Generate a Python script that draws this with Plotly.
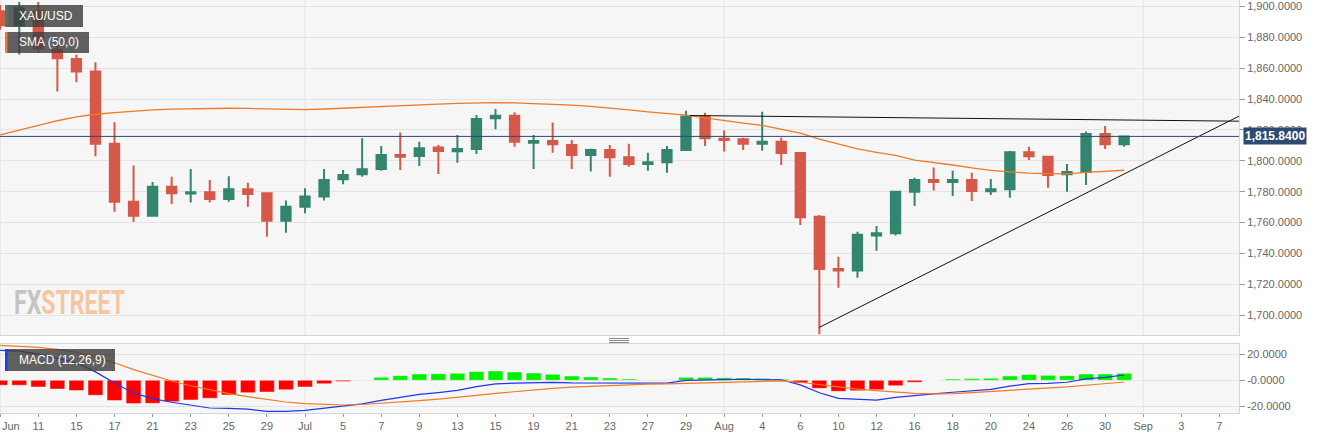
import plotly.graph_objects as go

# ---------------- data ----------------
DATES = [
    "2021-06-09", "2021-06-10", "2021-06-11", "2021-06-14", "2021-06-15", "2021-06-16", "2021-06-17", "2021-06-18",
    "2021-06-21", "2021-06-22", "2021-06-23", "2021-06-24", "2021-06-25", "2021-06-28", "2021-06-29", "2021-06-30",
    "2021-07-01", "2021-07-02", "2021-07-05", "2021-07-06", "2021-07-07", "2021-07-08", "2021-07-09", "2021-07-12",
    "2021-07-13", "2021-07-14", "2021-07-15", "2021-07-16", "2021-07-19", "2021-07-20", "2021-07-21", "2021-07-22",
    "2021-07-23", "2021-07-26", "2021-07-27", "2021-07-28", "2021-07-29", "2021-07-30", "2021-08-02", "2021-08-03",
    "2021-08-04", "2021-08-05", "2021-08-06", "2021-08-09", "2021-08-10", "2021-08-11", "2021-08-12", "2021-08-13",
    "2021-08-16", "2021-08-17", "2021-08-18", "2021-08-19", "2021-08-20", "2021-08-23", "2021-08-24", "2021-08-25",
    "2021-08-26", "2021-08-27", "2021-08-30", "2021-08-31",
]
OPEN = [1897, 1888, 1897, 1872, 1866, 1858, 1811, 1773.5, 1764.4, 1783.2, 1778.8, 1779.6, 1775.3, 1781.5, 1779,
        1761.2, 1770.3, 1776.8, 1788, 1791.3, 1794.7, 1803.8, 1803.2, 1808.6, 1806.2, 1807.7, 1827.6, 1829.3,
        1811.8, 1812.9, 1810.3, 1803.8, 1807, 1802.3, 1798, 1799, 1807, 1828.7, 1814.4, 1814, 1811, 1812.4, 1805,
        1763.8, 1729.9, 1728.8, 1751.5, 1753, 1780, 1787.6, 1786.3, 1787.6, 1780.3, 1781.5, 1805.5, 1802.7,
        1791.3, 1792.8, 1817.4, 1810.7]
HIGH = [1901, 1903, 1903, 1877, 1869, 1864, 1825, 1797, 1786.3, 1789.7, 1794.7, 1787.6, 1790, 1785.8, 1779.3,
        1774.2, 1782.2, 1794.7, 1794, 1814.6, 1809.6, 1818.3, 1812.4, 1810.3, 1816.8, 1829.8, 1833.6, 1831.5,
        1816.8, 1824.8, 1813.5, 1807.9, 1810.3, 1811, 1805.3, 1809.6, 1832.5, 1831.2, 1819.6, 1815, 1831.9, 1815,
        1805.5, 1764.9, 1737.8, 1754, 1757.8, 1780.2, 1789.1, 1795.6, 1793.6, 1792.3, 1788.2, 1806.4, 1809.2,
        1803, 1798, 1819, 1822.6, 1816]
LOW = [1885, 1869, 1870, 1845, 1851, 1803, 1767, 1760.5, 1764, 1772, 1773, 1773, 1773.5, 1770.3, 1750.8,
       1753.4, 1766, 1774.2, 1784.8, 1789.7, 1793.6, 1794, 1796.7, 1791.5, 1798.8, 1804.5, 1820.5, 1809.2,
       1794.7, 1805.3, 1794.7, 1793, 1789.7, 1796.2, 1793.6, 1792.3, 1806.5, 1809.6, 1806, 1807, 1806.6, 1797.3,
       1758.4, 1687.5, 1717.7, 1724.2, 1741.7, 1751.5, 1770.7, 1780.7, 1777.2, 1774, 1777.9, 1776.1, 1800.6,
       1782.6, 1780, 1784.3, 1807.7, 1809.2]
CLOSE = [1888, 1899, 1873, 1866.5, 1858, 1811, 1773.5, 1764.4, 1783.2, 1779, 1779.6, 1775.3, 1781.5, 1778.5,
         1761.2, 1770.3, 1776.8, 1787.6, 1790.8, 1794.5, 1803.8, 1802.7, 1808.2, 1806.4, 1807.7, 1827.2, 1829.3,
         1812.4, 1812.9, 1810.7, 1803.8, 1807, 1802.3, 1798, 1799, 1807, 1828.7, 1814.6, 1813.5, 1811, 1812.4,
         1805, 1763.4, 1729.9, 1728.8, 1752, 1753, 1780, 1787.6, 1786.3, 1787.6, 1780.4, 1781.5, 1805.5, 1803,
         1790.8, 1792.8, 1817.4, 1810.7, 1815.84]
SMA50 = [1816.8, 1820, 1823, 1826, 1828.5, 1830.2, 1831.3, 1832.2, 1833, 1833.5, 1833.8, 1834, 1834.1, 1834,
         1833.6, 1833.2, 1833.2, 1833.6, 1834.2, 1834.8, 1835.4, 1835.9, 1836.3, 1836.8, 1837.3, 1837.7, 1837.8,
         1837.6, 1837.2, 1836.7, 1836.1, 1835.3, 1834.3, 1833.0, 1831.8, 1830.6, 1829.6, 1827.8, 1826, 1824.5,
         1823, 1820.5, 1817.9, 1814, 1811, 1807.8, 1805.5, 1803.5, 1800.5, 1799, 1797.3, 1795.4, 1793.8, 1792.8,
         1792, 1791.7, 1791.5, 1792.5, 1793.2, 1793.9]
MACD_LINE = [23.1, 22.4, 20.2, 17.1, 13.6, 6.5, -2.1, -9.7, -14.1, -16.9, -19.3, -21.3, -21.6, -22.1, -23.9,
             -23.9, -23.1, -21.3, -20.0, -18.1, -15.5, -13.3, -10.8, -9.4, -7.8, -4.9, -2.8, -2.2, -1.7, -1.6,
             -2.0, -2.0, -2.1, -2.4, -2.5, -2.1, 0.0, 0.5, 0.6, 0.8, 0.8, 0.4, -3.5, -9.6, -13.9, -14.8, -15.2,
             -13.1, -11.5, -10.4, -9.2, -8.1, -7.0, -4.5, -2.6, -2.4, -1.5, 1.1, 2.3, 4.1]
MACD_SIGNAL = [26.9, 26.2, 25.3, 23.8, 21.5, 18.0, 13.5, 8.2, 3.6, -0.5, -4.2, -7.5, -10.3, -12.6, -14.9, -16.7,
               -18.0, -18.7, -19.0, -18.6, -17.8, -16.9, -15.7, -14.5, -13.2, -11.6, -10.0, -8.6, -7.3, -6.2,
               -5.3, -4.6, -3.9, -3.4, -3.0, -2.7, -2.3, -1.8, -1.4, -1.0, -0.7, -0.5, -1.5, -3.4, -5.4, -6.8,
               -8.0, -9.0, -10.0, -10.4, -10.2, -9.4, -8.6, -7.8, -7.0, -6.2, -5.1, -3.8, -2.6, -1.3]
MACD_HIST = [-3.8, -3.8, -5.1, -6.7, -7.9, -11.5, -15.6, -17.9, -17.7, -16.4, -15.1, -13.8, -11.3, -9.5, -9.0,
             -7.2, -5.1, -2.6, -1.0, 0.5, 2.3, 3.6, 4.9, 5.1, 5.4, 6.7, 7.2, 6.4, 5.6, 4.6, 3.3, 2.6, 1.8, 1.0,
             0.5, 0.6, 2.3, 2.3, 2.0, 1.8, 1.5, 0.9, -2.0, -6.2, -8.5, -8.0, -7.2, -4.1, -1.5, 0.0, 1.0, 1.3, 1.6,
             3.3, 4.4, 3.8, 3.6, 4.9, 4.9, 5.4]
TICK_LABELS = ["Jun", "11", "15", "17", "21", "23", "25", "29", "Jul", "5", "7", "9", "13", "15", "19", "21",
               "23", "27", "29", "Aug", "4", "6", "10", "12", "16", "18", "20", "24", "26", "30", "Sep", "3", "7"]
LAST_PRICE = 1815.84
RESIST_X = [36.2, 65.05]
RESIST_Y = [1829.4, 1825.7]
SUPPORT_X = [43, 65.05]
SUPPORT_Y = [1692.0, 1829.1]
SYMBOL = "XAU/USD"
SMA_NAME = "SMA (50,0)"
MACD_NAME = "MACD (12,26,9)"
WATERMARK = ("FX", "STREET")

# ---------------- geometry / style ----------------
W, H = 1323, 439
ML, MR, MT, MB = 0, 84, 0, 26
PW, PH = W - ML - MR, H - MT - MB
MAIN_BOTTOM_PX, MACD_TOP_PX = 335, 344.3


def px_x(x):
    return (x - ML) / PW


def px_y(y):
    return (H - MB - y) / PH


UP, DOWN = "#338570", "#d65848"
GRID, BORDER, PLOTBG = "#e4e4e4", "#cfd5e3", "#f6f6f6"
FONT = "Liberation Sans, Arial, sans-serif"

idx = list(range(len(DATES)))
tick_vals = [2 * i for i in range(len(TICK_LABELS))]
tick_text = [""] + TICK_LABELS[1:]
month_vals = [v for v, t in zip(tick_vals, TICK_LABELS) if not t.isdigit()]

fig = go.Figure()
fig.add_trace(go.Candlestick(
    x=idx, open=OPEN, high=HIGH, low=LOW, close=CLOSE, xaxis="x", yaxis="y",
    increasing=dict(line=dict(color=UP, width=2), fillcolor=UP),
    decreasing=dict(line=dict(color=DOWN, width=2), fillcolor=DOWN),
    whiskerwidth=0, hoverinfo="skip",
))
fig.add_trace(go.Scatter(x=idx, y=SMA50, mode="lines", line=dict(color="#f07a22", width=1.3),
                         xaxis="x", yaxis="y", hoverinfo="skip"))
fig.add_trace(go.Scatter(x=RESIST_X, y=RESIST_Y, mode="lines", line=dict(color="#111111", width=1),
                         xaxis="x", yaxis="y", hoverinfo="skip"))
fig.add_trace(go.Scatter(x=SUPPORT_X, y=SUPPORT_Y, mode="lines", line=dict(color="#111111", width=1),
                         xaxis="x", yaxis="y", hoverinfo="skip"))

bar_colors = []
for v in MACD_HIST:
    if v >= 0:
        bar_colors.append("#8ff28f" if v < 0.8 else "#00f000")
    else:
        bar_colors.append("#ff0000")
fig.add_trace(go.Bar(x=idx, y=MACD_HIST, width=0.78, marker=dict(color=bar_colors,
                     line=dict(color="rgba(255,255,255,0.45)", width=1)),
                     xaxis="x2", yaxis="y2", hoverinfo="skip"))
fig.add_trace(go.Scatter(x=idx, y=MACD_LINE, mode="lines", line=dict(color="#2235ee", width=1.2),
                         xaxis="x2", yaxis="y2", hoverinfo="skip"))
fig.add_trace(go.Scatter(x=idx, y=MACD_SIGNAL, mode="lines", line=dict(color="#f57a22", width=1.2),
                         xaxis="x2", yaxis="y2", hoverinfo="skip"))

x_range = [-0.2 / 19.05, -0.2 / 19.05 + PW / 19.05]
axis_common = dict(showline=True, mirror=True, linecolor=BORDER, linewidth=1, zeroline=False)

shapes = []
# month gridlines
for mv in month_vals:
    for yr in ("y domain", "y2 domain"):
        shapes.append(dict(type="line", xref="x", yref=yr, x0=mv, x1=mv, y0=0, y1=1,
                           line=dict(color=GRID, width=1), layer="below"))
# last price line
shapes.append(dict(type="line", xref="x domain", yref="y", x0=0, x1=1, y0=LAST_PRICE, y1=LAST_PRICE,
                   line=dict(color="#2d4a73", width=1)))
# legend boxes
boxes = [(5, 83, 5, 27, UP), (5, 89, 32, 53, "#f07a22"), (5, 115, 349, 371, "#1f3cf5")]
for x0, x1, y0, y1, c in boxes:
    shapes.append(dict(type="rect", xref="paper", yref="paper", x0=px_x(x0), x1=px_x(x1), y0=px_y(y1),
                       y1=px_y(y0), fillcolor="rgba(62,62,62,0.82)", line=dict(width=0)))
    shapes.append(dict(type="rect", xref="paper", yref="paper", x0=px_x(x0), x1=px_x(x0 + 2.5), y0=px_y(y1),
                       y1=px_y(y0), fillcolor=c, line=dict(width=0)))
# panel drag handle
for yy in (338.5, 340.5, 342.5):
    shapes.append(dict(type="line", xref="paper", yref="paper", x0=px_x(609), x1=px_x(629), y0=px_y(yy),
                       y1=px_y(yy), line=dict(color="#8a8a8a", width=1)))

annotations = [
    dict(text=SYMBOL, xref="paper", yref="paper", x=px_x(17), y=px_y(16), xanchor="left", yanchor="middle",
         showarrow=False, font=dict(color="white", size=12, family=FONT)),
    dict(text=SMA_NAME, xref="paper", yref="paper", x=px_x(17), y=px_y(42.5), xanchor="left", yanchor="middle",
         showarrow=False, font=dict(color="white", size=12, family=FONT)),
    dict(text=MACD_NAME, xref="paper", yref="paper", x=px_x(17), y=px_y(360), xanchor="left", yanchor="middle",
         showarrow=False, font=dict(color="white", size=12, family=FONT)),
    dict(text=f"<b>{LAST_PRICE:,.4f}</b>", xref="paper", yref="y", x=1, xshift=4, y=LAST_PRICE,
         xanchor="left", yanchor="middle", showarrow=False, bgcolor="#2d4a73", borderpad=1,
         font=dict(color="white", size=12, family=FONT)),
    dict(text=TICK_LABELS[0], xref="paper", yref="paper", x=0, y=px_y(426), xanchor="left", yanchor="middle",
         showarrow=False, font=dict(color="#666666", size=11, family=FONT)),
    # watermark (glyphs condensed horizontally in the post script)
    dict(text=(f"<b><span style='color:#c4c4c4'>{WATERMARK[0]}</span>"
               f"<span style='color:#f4c6a2'>{WATERMARK[1]}</span></b>"),
         xref="paper", yref="paper", x=px_x(13), y=px_y(302), xanchor="left", yanchor="middle",
         showarrow=False, borderpad=0, font=dict(size=33, family="Roboto, sans-serif")),
]

fig.update_layout(
    width=W, height=H, margin=dict(l=ML, r=MR, t=MT, b=MB),
    paper_bgcolor="white", plot_bgcolor=PLOTBG, showlegend=False, hovermode=False,
    font=dict(family=FONT, color="#666666", size=11),
    boxgap=0.3,
    xaxis=dict(domain=[0, 1], anchor="y", range=x_range, matches="x2", showticklabels=False,
               showgrid=False, rangeslider=dict(visible=False), **axis_common),
    yaxis=dict(domain=[px_y(MAIN_BOTTOM_PX), 1], anchor="x", side="right", range=[1687.05, 1904.3],
               tick0=1700, dtick=20, tickformat=",.4f", gridcolor=GRID, ticks="outside", ticklen=5,
               tickcolor="#999999", **axis_common),
    xaxis2=dict(domain=[0, 1], anchor="y2", range=x_range, tickvals=tick_vals, ticktext=tick_text,
                showgrid=False, ticks="outside", ticklen=3, tickcolor="#999999", **axis_common),
    yaxis2=dict(domain=[0, px_y(MACD_TOP_PX)], anchor="x2", side="right", range=[-25.15, 27.7],
                tickvals=[20, 0, -20], ticktext=["20.0000", "-0.0000", "-20.0000"], gridcolor=GRID,
                ticks="outside", ticklen=5, tickcolor="#999999", **axis_common),
    shapes=shapes, annotations=annotations,
)

POST = """
document.body.style.margin = '0px';
document.body.style.overflow = 'hidden';
document.querySelectorAll('text.annotation-text').forEach(function (t) {
  if (t.textContent === 'FXSTREET') {
    var bb = t.getBBox();
    var s = 111 / bb.width;
    var prev = t.getAttribute('transform') || '';
    t.setAttribute('transform', prev + ' translate(' + bb.x + ',0) scale(' + s + ',1) translate(' + (-bb.x) + ',0)');
  }
});
"""

fig.write_html("out.html", post_script=POST, config={"displayModeBar": False, "staticPlot": True})
